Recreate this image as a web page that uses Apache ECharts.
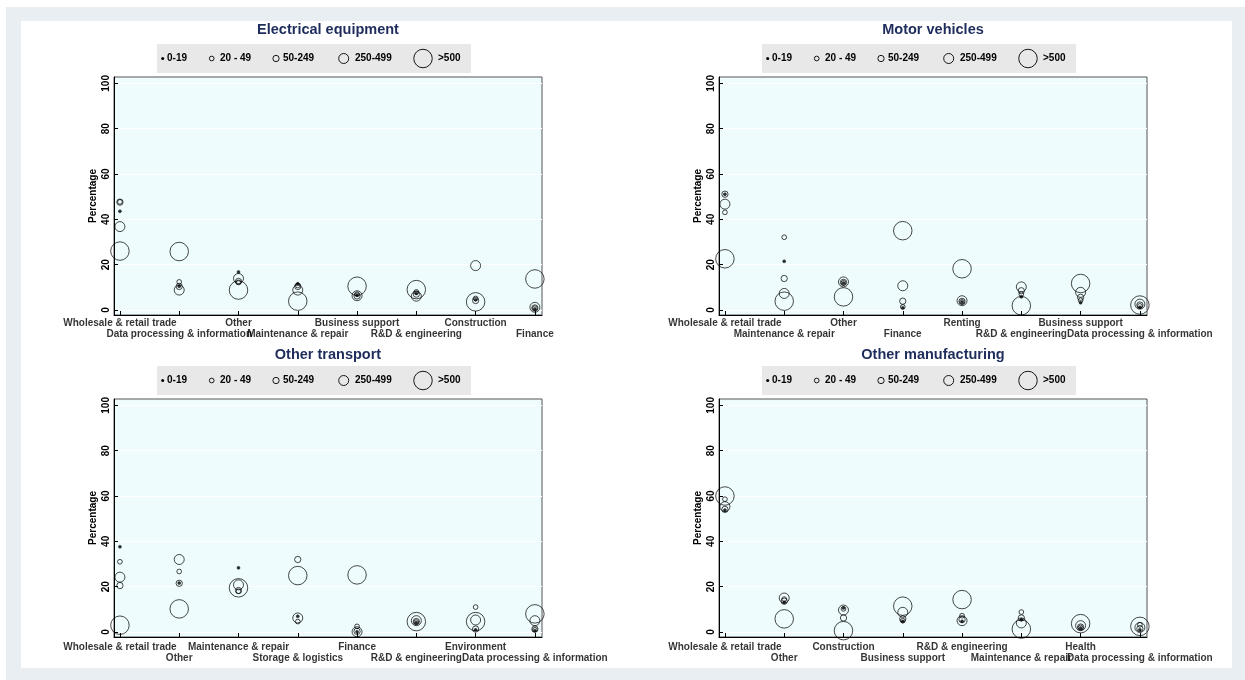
<!DOCTYPE html>
<html><head><meta charset="utf-8">
<script src="https://cdn.jsdelivr.net/npm/echarts@6/dist/echarts.min.js"></script>
<style>html,body{margin:0;padding:0;background:#fff}#c{width:1245px;height:680px}</style>
</head><body><div id="c"></div>
<script>
// ---------- DATA ----------
const sizeClasses = ['0-19', '20 - 49', '50-249', '250-499', '>500'];
const yTickValues = [0, 20, 40, 60, 80, 100];

const titleElec = 'Electrical equipment';
const catsElec = ['Wholesale & retail trade', 'Data processing & information', 'Other', 'Maintenance & repair', 'Business support', 'R&D & engineering', 'Construction', 'Finance'];
const elec_0_19    = [43.6, 10.5, 16.8, 11.6, 6.5, 7.3, 4.5, 0.5];
const elec_20_49   = [47.7, 12.4, 12.2, 10.8, 7.0, 8.0, 5.1, 0.8];
const elec_50_249  = [47.6, 10.4, 12.6, 10.4, 6.2, 7.0, 4.2, 0.9];
const elec_250_499 = [36.8, 8.8, 13.9, 8.8, 6.3, 6.1, 19.6, 1.2];
const elec_500     = [26.0, 25.8, 8.8, 3.9, 10.5, 9.0, 3.6, 13.7];

const titleMotor = 'Motor vehicles';
const catsMotor = ['Wholesale & retail trade', 'Maintenance & repair', 'Other', 'Finance', 'Renting', 'R&D & engineering', 'Business support', 'Data processing & information'];
const motor_0_19    = [51.1, 21.5, 11.9, 1.0, 3.5, 5.8, 3.2, 1.2];
const motor_20_49   = [43.1, 32.1, 12.0, 1.4, 3.6, 7.0, 4.3, 1.8];
const motor_50_249  = [51.1, 13.9, 12.2, 3.9, 3.8, 8.5, 5.6, 2.2];
const motor_250_499 = [46.7, 7.3, 12.4, 10.7, 4.1, 10.2, 7.8, 2.6];
const motor_500     = [22.6, 3.9, 5.8, 35.0, 18.2, 1.9, 11.7, 2.2];

const titleTrans = 'Other transport';
const catsTrans = ['Wholesale & retail trade', 'Other', 'Maintenance & repair', 'Storage & logistics', 'Finance', 'R&D & engineering', 'Environment', 'Data processing & information'];
const trans_0_19    = [37.6, 21.6, 28.3, 6.9, 0.1, 4.2, 1.0, 0.7];
const trans_20_49   = [31.0, 26.7, 18.0, 4.6, 2.5, 4.4, 11.0, 1.0];
const trans_50_249  = [20.5, 21.5, 18.3, 32.0, 0.3, 4.6, 1.3, 1.3];
const trans_250_499 = [24.2, 32.0, 20.8, 6.2, 0.1, 5.0, 5.3, 5.0];
const trans_500     = [3.0, 10.2, 19.5, 24.9, 25.2, 4.6, 4.6, 8.0];

const titleManu = 'Other manufacturing';
const catsManu = ['Wholesale & retail trade', 'Other', 'Construction', 'Business support', 'R&D & engineering', 'Maintenance & repair', 'Health', 'Data processing & information'];
const manu_0_19    = [53.8, 13.1, 10.6, 4.7, 4.7, 5.5, 1.8, 1.0];
const manu_20_49   = [58.6, 14.5, 10.2, 5.0, 7.2, 8.8, 2.0, 3.2];
const manu_50_249  = [54.1, 13.6, 6.2, 5.8, 5.5, 6.2, 2.2, 1.5];
const manu_250_499 = [55.3, 15.0, 9.7, 8.7, 5.0, 4.0, 2.8, 2.0];
const manu_500     = [60.0, 5.8, 0.6, 11.4, 14.3, 1.3, 3.7, 2.5];

// ---------- LAYOUT / STYLE ----------
const panels = [
  {title: titleElec,  cats: catsElec,  vals: [elec_0_19, elec_20_49, elec_50_249, elec_250_499, elec_500]},
  {title: titleMotor, cats: catsMotor, vals: [motor_0_19, motor_20_49, motor_50_249, motor_250_499, motor_500]},
  {title: titleTrans, cats: catsTrans, vals: [trans_0_19, trans_20_49, trans_50_249, trans_250_499, trans_500]},
  {title: titleManu,  cats: catsManu,  vals: [manu_0_19, manu_20_49, manu_50_249, manu_250_499, manu_500]}
];
const DX = [0, 605, 0, 605];
const DY = [0, 0, 322, 322];
const TITLE_DY = [0, 0, 325, 325];
const LABEL_EXTRA = [0, 0, 2, 2];
const PLOT = {left: 114, top: 77, width: 428, height: 238};
const Y_MIN = -2.2, Y_MAX = 102.8;
const X_MIN = 0.9, X_MAX = 8.12;
const SYM = [3, 4.7, 6.3, 10, 18.5];
const LABEL_DIST = [3, 14];
const LEG = {x: 157, y: 44, w: 314, h: 29,
  sym: [162.7, 211.7, 276, 343.7, 423], txt: [167, 220, 283, 355, 438]};
const FONT = 'Liberation Sans, Arial, sans-serif';
const TITLE_COLOR = '#1e2d5c';

const chart = echarts.init(document.getElementById('c'), null, {renderer: 'canvas'});

const grid = [], xAxis = [], yAxis = [], series = [], title = [];
const graphic = [
  {type: 'rect', shape: {x: 6, y: 7, width: 1239, height: 673}, style: {fill: '#e8eef1'}, z: -10},
  {type: 'rect', shape: {x: 21, y: 21, width: 1211, height: 647}, style: {fill: '#ffffff'}, z: -9}
];

panels.forEach((p, k) => {
  const dx = DX[k], dy = DY[k];
  grid.push({left: PLOT.left + dx, top: PLOT.top + dy, width: PLOT.width, height: PLOT.height,
    show: true, backgroundColor: '#effcfd', borderColor: '#555', borderWidth: 1,
    containLabel: false, outerBoundsMode: 'none'});
  const catValues = p.cats.map((c, i) => i + 1);
  xAxis.push({type: 'value', gridIndex: k, min: X_MIN, max: X_MAX,
    axisLine: {show: true, onZero: false, lineStyle: {color: '#000', width: 1}},
    axisTick: {show: true, inside: true, length: 4, customValues: catValues, lineStyle: {color: '#000'}},
    splitLine: {show: false},
    axisLabel: {show: false}
  });
  yAxis.push({type: 'value', gridIndex: k, min: Y_MIN, max: Y_MAX,
    name: 'Percentage', nameLocation: 'middle', nameRotate: 90, nameGap: 16,
    nameTextStyle: {fontFamily: FONT, fontWeight: 'bold', fontSize: 10, color: '#000'},
    axisLine: {show: true, onZero: false, lineStyle: {color: '#000', width: 1}},
    axisTick: {show: true, inside: true, length: 4, customValues: yTickValues, lineStyle: {color: '#000'}},
    splitLine: {show: true, lineStyle: {color: '#ffffff', width: 1}},
    axisLabel: {show: true, customValues: yTickValues, rotate: 90, margin: 3, showMinLabel: true, showMaxLabel: true,
      fontFamily: FONT, fontWeight: 'bold', fontSize: 10, color: '#000'}
  });
  title.push({text: p.title, left: 328 + dx, top: 22 + TITLE_DY[k], textAlign: 'center', padding: 0,
    textStyle: {fontFamily: FONT, fontWeight: 'bold', fontSize: 14.5, color: TITLE_COLOR}});

  for (let c = 4; c >= 0; c--) {
    series.push({type: 'scatter', name: sizeClasses[c], xAxisIndex: k, yAxisIndex: k,
      symbol: 'circle', symbolSize: SYM[c], silent: true, animation: false,
      itemStyle: c === 0 ? {color: '#000', borderColor: '#000', borderWidth: 0.5}
                         : {color: 'rgba(0,0,0,0)', borderColor: '#000', borderWidth: 0.9},
      data: p.cats.map((cat, i) => [i + 1, p.vals[c][i]])
    });
  }

  // category labels (staggered in two rows), anchored at each category on the x axis
  series.push({type: 'scatter', name: 'categories', xAxisIndex: k, yAxisIndex: k,
    symbol: 'circle', symbolSize: 0.01, silent: true, clip: false, animation: false,
    itemStyle: {color: 'rgba(0,0,0,0)'},
    label: {show: true, position: 'bottom', formatter: d => d.name,
      fontFamily: FONT, fontWeight: 'bold', fontSize: 10, color: '#000', lineHeight: 11},
    labelLayout: {hideOverlap: false},
    data: p.cats.map((cat, i) => ({name: cat, value: [i + 1, Y_MIN],
      label: {distance: LABEL_DIST[i % 2] + LABEL_EXTRA[k]}}))
  });

  const cy = LEG.y + LEG.h / 2 + dy;
  graphic.push({type: 'rect', shape: {x: LEG.x + dx, y: LEG.y + dy, width: LEG.w, height: LEG.h},
    style: {fill: '#e8e8e8'}, z: 1});
  sizeClasses.forEach((name, c) => {
    graphic.push({type: 'circle', shape: {cx: LEG.sym[c] + dx, cy: cy, r: SYM[c] / 2},
      style: c === 0 ? {fill: '#000'} : {fill: 'none', stroke: '#000', lineWidth: 0.9}, z: 2});
    graphic.push({type: 'text', x: LEG.txt[c] + dx, y: cy,
      style: {text: name, fill: '#000', font: 'bold 10px ' + FONT, verticalAlign: 'middle', align: 'left'}, z: 2});
  });
});

chart.setOption({animation: false, backgroundColor: '#ffffff', title, grid, xAxis, yAxis, series, graphic});
</script></body></html>
